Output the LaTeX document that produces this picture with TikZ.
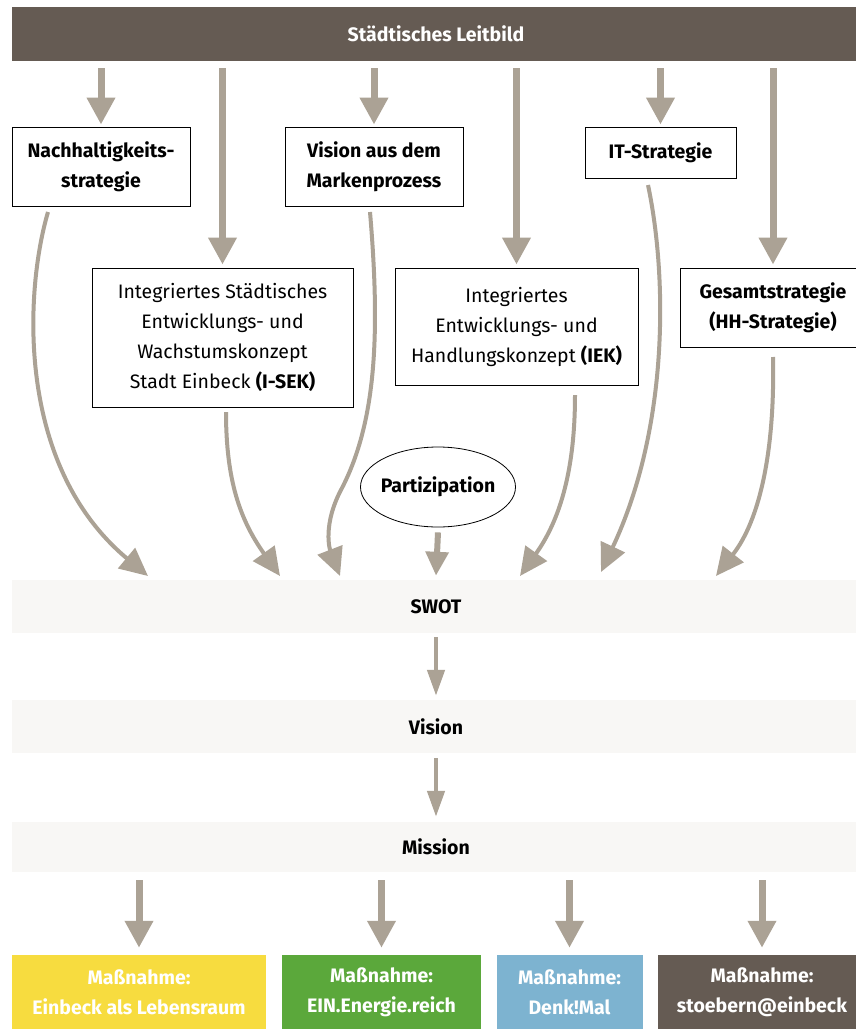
\documentclass[tikz,border=0pt]{standalone}
\usepackage{fontspec}
\setmainfont{Fira Sans}
\usetikzlibrary{arrows.meta,shapes.geometric}
\definecolor{barbrown}{HTML}{655B53}
\definecolor{arrgray}{HTML}{ABA295}
\definecolor{bandgray}{HTML}{F8F7F5}
\definecolor{massyellow}{HTML}{F7DC3F}
\definecolor{massgreen}{HTML}{5BA83B}
\definecolor{massblue}{HTML}{7DB3D0}
\begin{document}
\begin{tikzpicture}[x=1pt,y=-1pt,
  boxnode/.style={draw=black,line width=0.8pt,fill=white,align=center,inner sep=0pt,font=\fontsize{19.5}{30}\selectfont},
  bandnode/.style={fill=bandgray,inner sep=0pt,minimum width=848pt,font=\bfseries\fontsize{19.5}{24}\selectfont},
  massnode/.style={inner sep=0pt,minimum height=74pt,align=center,text=white,font=\bfseries\fontsize{19.5}{30}\selectfont},
  bigarrow/.style={draw=arrgray,line width=7pt,-{Triangle[width=27pt,length=27pt]}},
  partarrow/.style={draw=arrgray,line width=6pt,-{Triangle[width=22pt,length=24pt]}},
  midarrow/.style={draw=arrgray,line width=4.5pt,-{Triangle[width=17pt,length=26pt]}},
  curvearrow/.style={draw=arrgray,line width=4pt,-{Triangle[width=26pt,length=28pt]}},
]
\useasboundingbox (0,0) rectangle (856,1029);
\fill[white] (0,0) rectangle (856,1029);

% top bar
\node[fill=barbrown,minimum width=848pt,minimum height=54pt,inner sep=0pt,text=white,
  font=\bfseries\fontsize{19.5}{24}\selectfont] (leit) at (436,34) {Städtisches Leitbild};

% first row boxes
\node[boxnode,minimum width=178pt,minimum height=79pt] (nach) at (101,166.5)
  {\textbf{Nachhaltigkeits-}\\\textbf{strategie}};
\node[boxnode,minimum width=178pt,minimum height=79pt] (vmark) at (374,166.5)
  {\textbf{Vision aus dem}\\\textbf{Markenprozess}};
\node[boxnode,minimum width=151pt,minimum height=51pt] (it) at (660.5,152.5)
  {\textbf{IT-Strategie}};

% second row boxes
\node[boxnode,minimum width=261pt,minimum height=139pt] (isek) at (222.5,337.5)
  {Integriertes Städtisches\\Entwicklungs- und\\Wachstumskonzept\\Stadt Einbeck \textbf{(I-SEK)}};
\node[boxnode,minimum width=243pt,minimum height=117pt] (iek) at (516.5,326.5)
  {Integriertes\\Entwicklungs- und\\Handlungskonzept \textbf{(IEK)}};
\node[boxnode,minimum width=186pt,minimum height=79pt] (gesamt) at (773,307.5)
  {\textbf{Gesamtstrategie}\\\textbf{(HH-Strategie)}};

% Partizipation
\node[ellipse,draw=black,line width=0.8pt,minimum width=155pt,minimum height=80pt,
  inner xsep=-3pt,inner ysep=0pt,
  font=\bfseries\fontsize{19.5}{24}\selectfont] (partiz) at (438,487) {Partizipation};

% bands
\node[bandnode,minimum height=53pt] (swot) at (436,606.5) {SWOT};
\node[bandnode,minimum height=53pt] (vision) at (436,726.5) {Vision};
\node[bandnode,minimum height=50pt] (mission) at (436,847) {Mission};

% measures
\node[massnode,fill=massyellow,minimum width=254pt] (m1) at (139,992)
  {Maßnahme:\\Einbeck als Lebensraum};
\node[massnode,fill=massgreen,minimum width=199pt] (m2) at (381.5,992)
  {Maßnahme:\\EIN.Energie.reich};
\node[massnode,fill=massblue,minimum width=146pt] (m3) at (569.5,992)
  {Maßnahme:\\Denk!Mal};
\node[massnode,fill=barbrown,minimum width=208pt] (m4) at (762,992)
  {Maßnahme:\\stoebern@einbeck};

% straight arrows from top bar
\draw[bigarrow] ([yshift=-7pt]leit.south -| nach.north) -- ([yshift=2pt]nach.north);
\draw[bigarrow] ([yshift=-7pt]leit.south -| isek.north) -- ([yshift=3pt]isek.north);
\draw[bigarrow] ([yshift=-7pt]leit.south -| vmark.north) -- ([yshift=2pt]vmark.north);
\draw[bigarrow] ([yshift=-7pt]leit.south -| iek.north) -- ([yshift=3pt]iek.north);
\draw[bigarrow] ([yshift=-7pt]leit.south -| it.north) -- ([yshift=2pt]it.north);
\draw[bigarrow] ([yshift=-7pt]leit.south -| gesamt.north) -- ([yshift=3pt]gesamt.north);

% curve start and end points
\coordinate (s1) at (48,212);
\coordinate (e1) at (148,576);
\coordinate (s2) at (226,412);
\coordinate (e2) at (280,576);
\coordinate (s3) at (370,212);
\coordinate (k3) at (342,488);
\coordinate (e3) at (340,576);
\coordinate (s5) at (575,395);
\coordinate (e5) at (520,576);
\coordinate (s6) at (648,185);
\coordinate (e6) at (601,572);
\coordinate (s7) at (773,357);
\coordinate (e7) at (716,576);

\draw[curvearrow] (s1) .. controls (25,290) and (15,465) .. (e1);
\draw[curvearrow] (s2) .. controls (226,480) and (240,520) .. (e2);
\draw[curvearrow] (s3) .. controls (380,330) and (377,420) .. (k3)
                       .. controls (322,525) and (330,550) .. (e3);
\draw[curvearrow] (s5) .. controls (575,470) and (560,520) .. (e5);
\draw[curvearrow] (s6) .. controls (668,280) and (668,430) .. (e6);
\draw[curvearrow] (s7) .. controls (775,450) and (760,520) .. (e7);

% Partizipation to SWOT
\draw[partarrow] ([yshift=-5pt]partiz.south) -- ([yshift=4pt]swot.north);

% SWOT -> Vision -> Mission
\draw[midarrow] ([yshift=-4pt]swot.south) -- ([yshift=4pt]vision.north);
\draw[midarrow] ([yshift=-5pt]vision.south) -- ([yshift=5pt]mission.north);

% Mission -> measures
\draw[bigarrow] ([yshift=-8pt]mission.south -| m1.north) -- ([yshift=7pt]m1.north);
\draw[bigarrow] ([yshift=-8pt]mission.south -| m2.north) -- ([yshift=7pt]m2.north);
\draw[bigarrow] ([yshift=-8pt]mission.south -| m3.north) -- ([yshift=7pt]m3.north);
\draw[bigarrow] ([yshift=-8pt]mission.south -| m4.north) -- ([yshift=7pt]m4.north);
\end{tikzpicture}
\end{document}
